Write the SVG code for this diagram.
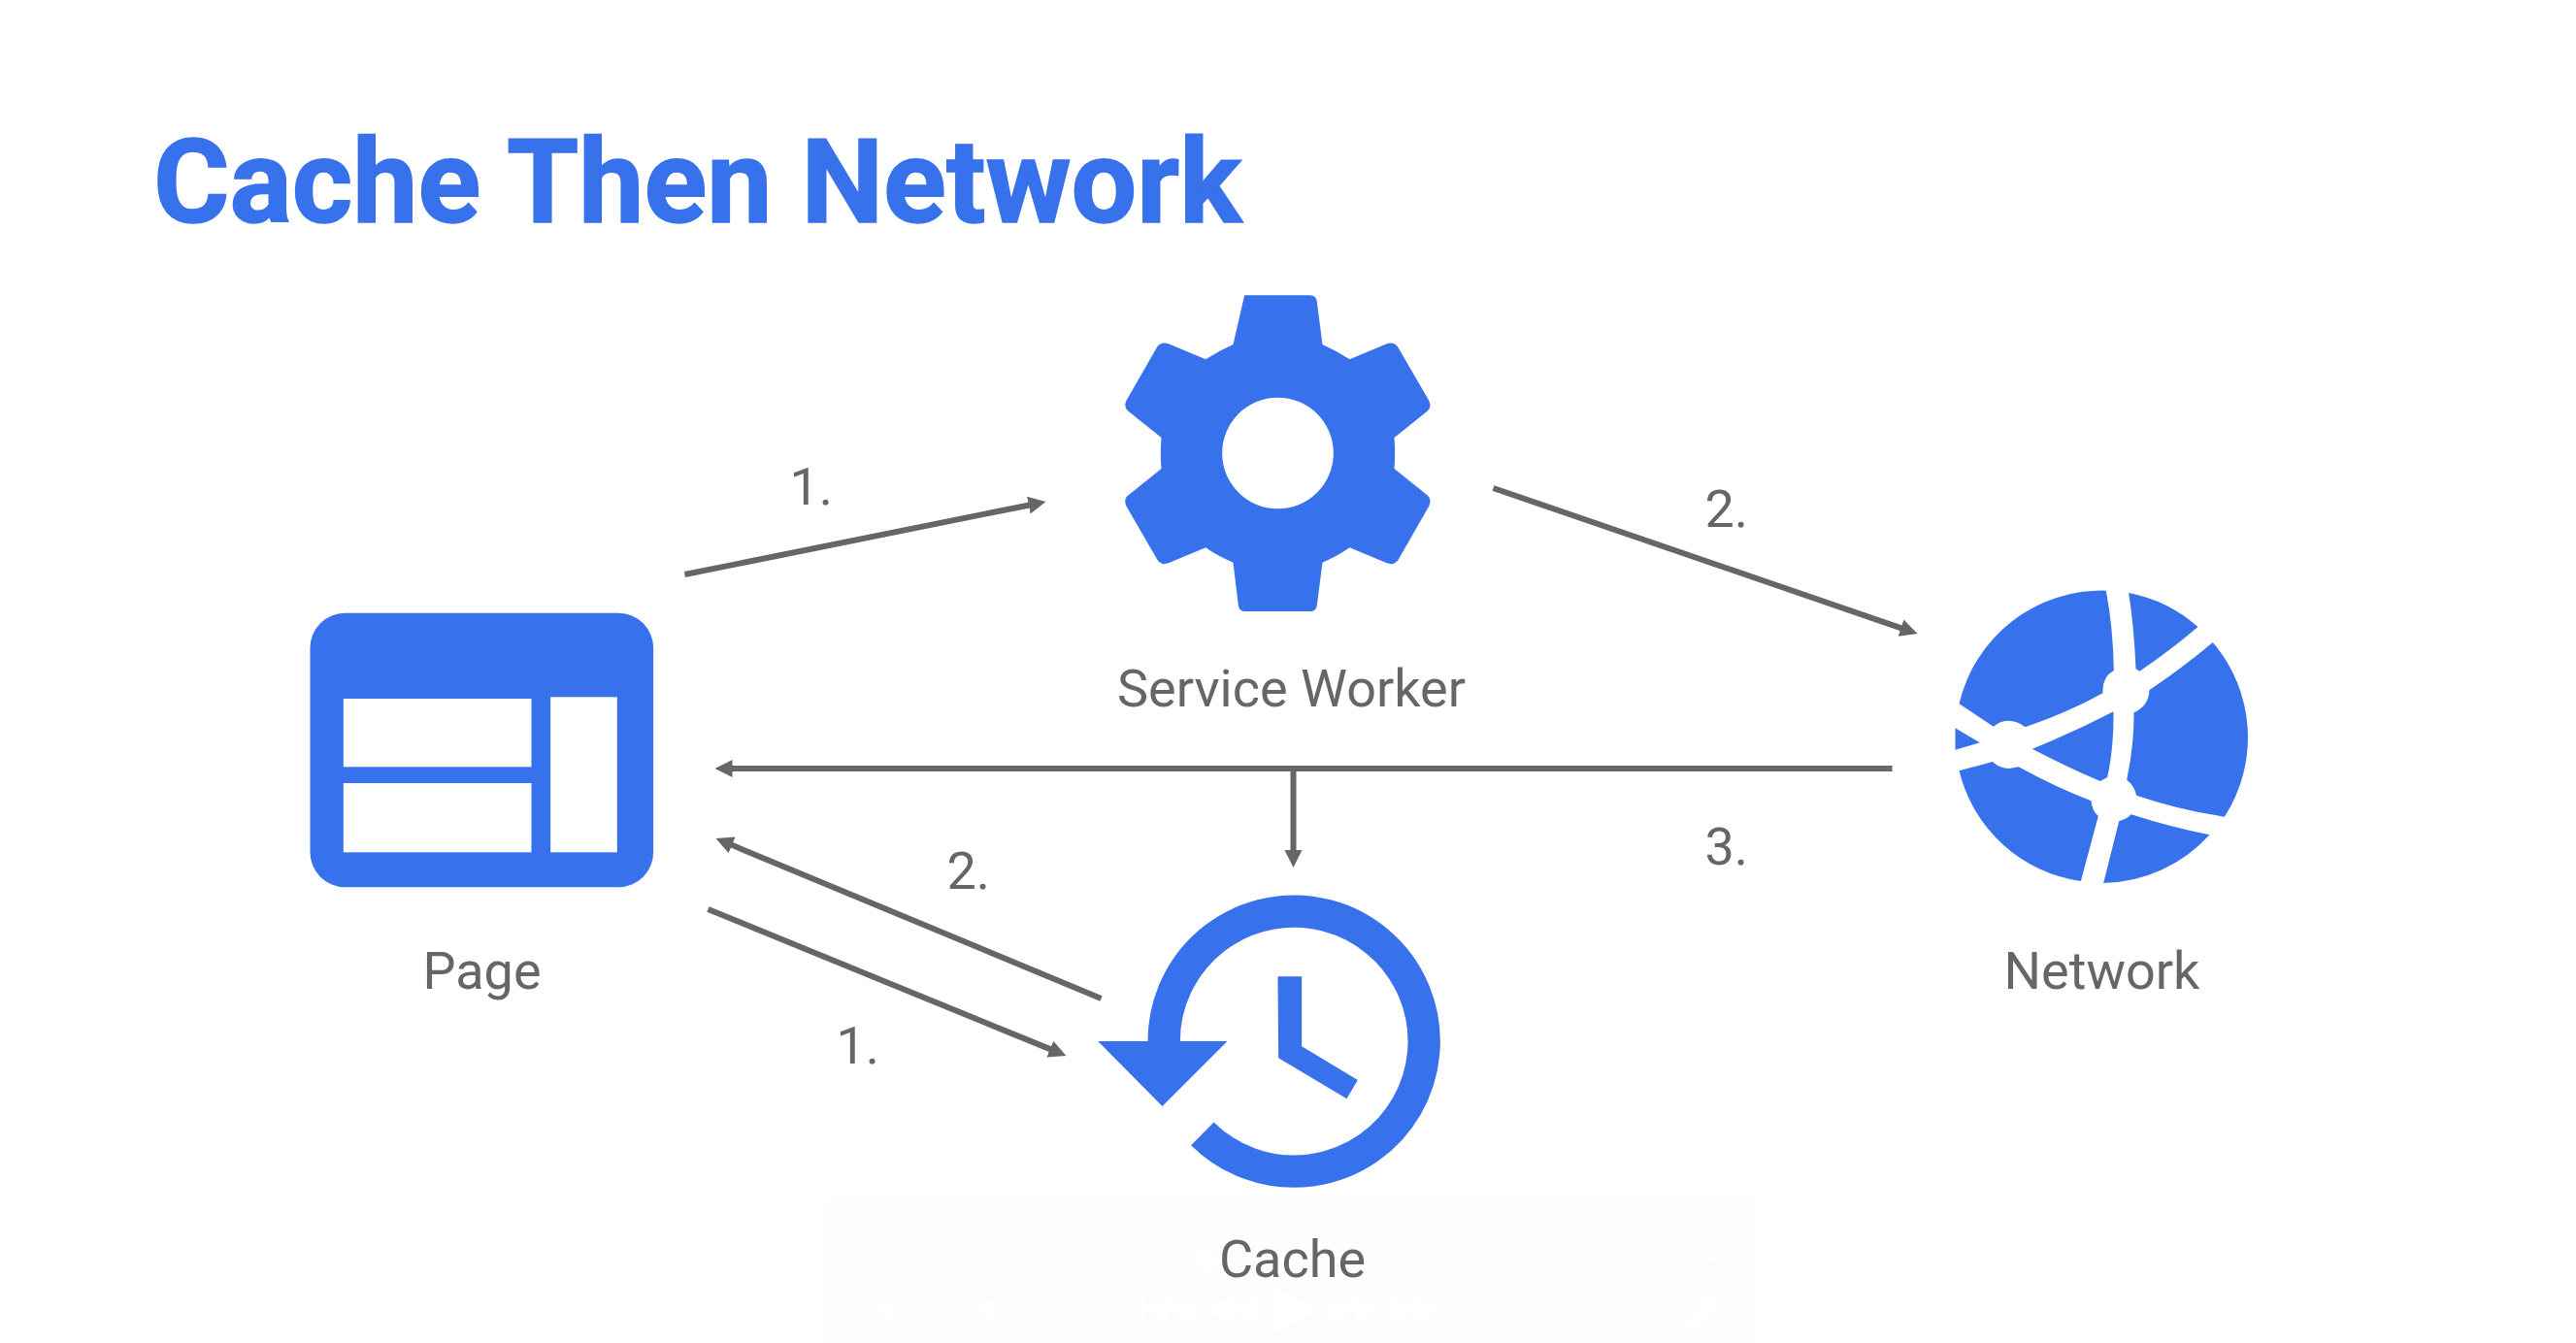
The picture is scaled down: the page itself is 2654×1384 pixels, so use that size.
<svg xmlns="http://www.w3.org/2000/svg" width="2654" height="1384" viewBox="0 0 2654 1384">
<style>
.icon{fill:#3771ec}
.hole{fill:#fff}
.label{font-family:Roboto,"Liberation Sans",sans-serif;font-size:54px;fill:#666;text-anchor:middle}
.num{font-family:Roboto,"Liberation Sans",sans-serif;font-size:54px;fill:#666}
.title{font-family:Roboto,"Liberation Sans",sans-serif;font-size:120px;font-weight:700;fill:#3771ec;stroke:#3771ec;stroke-width:1.5}
.wire{fill:none;stroke:#666;stroke-width:6}
.ghost{font-family:Roboto,"Liberation Sans",sans-serif;font-size:22px;fill:#fff}
.ghost-shape{fill:#fff}
</style>
<defs>
<marker id="arrow" markerUnits="userSpaceOnUse" markerWidth="20" markerHeight="20" refX="2" refY="9" orient="auto"><path d="M0 0L18 9L0 18Z" fill="#666"/></marker>
</defs>
<rect width="2654" height="1384" fill="#fff"/>
<g id="player">
<rect x="851" y="1232" width="958" height="160" rx="14" fill="#fdfdfd"/>
<text class="ghost" x="890" y="1258">03:30</text>
<text class="ghost" x="1060" y="1258">18 - Caching strategies - Progressive Web App Trai...</text>
<text class="ghost" x="1706" y="1258">-05:16</text>
<g class="ghost-shape">
<rect x="891" y="1296" width="876" height="4"/>
<circle cx="1242" cy="1298" r="12"/>
<path d="M902 1344H910L922 1336V1364L910 1356H902Z"/>
<rect x="951" y="1347" width="153" height="4"/>
<circle cx="1018" cy="1349" r="9"/>
<path d="M1175 1335H1181V1365H1175ZM1181 1350L1205 1335V1365ZM1205 1350L1230 1335V1365Z"/>
<path d="M1242 1350L1270 1335V1365ZM1270 1350L1297 1335V1365Z"/>
<path d="M1309 1325L1358 1350L1309 1375Z"/>
<path d="M1370 1335L1395 1350L1370 1365ZM1395 1335L1419 1350L1395 1365Z"/>
<path d="M1432 1335L1456 1350L1432 1365ZM1456 1335L1481 1350L1456 1365ZM1481 1335H1487V1365H1481Z"/>
<path d="M1762 1332L1768 1345L1745 1370L1732 1368Z"/>
</g>
</g>
<text class="title" x="158" y="229">Cache Then Network</text>
<g transform="translate(.5 1)">
<g id="connectors">
<path class="wire" marker-end="url(#arrow)" d="M705 591L1061.3 519.2"/>
<path class="wire" marker-end="url(#arrow)" d="M1538 502L1959.9 646.8"/>
<path class="wire" marker-end="url(#arrow)" d="M1949 791H752"/>
<path class="wire" marker-end="url(#arrow)" d="M1332 791V877"/>
<path class="wire" marker-end="url(#arrow)" d="M1134 1028L751.8 869.1"/>
<path class="wire" marker-end="url(#arrow)" d="M729 936L1083.2 1080.9"/>
</g>
<g id="edge-labels">
<text class="num" x="813" y="519">1.</text>
<text class="num" x="1756" y="542">2.</text>
<text class="num" x="1756" y="890">3.</text>
<text class="num" x="975" y="915">2.</text>
<text class="num" x="861" y="1095">1.</text>
</g>
<g id="page">
<g transform="translate(300 610) scale(.33333)">
<rect class="icon" x="57" y="62" width="1061" height="848" rx="108"/>
<rect class="hole" x="160" y="327" width="581" height="211"/>
<rect class="hole" x="160" y="588" width="581" height="214"/>
<rect class="hole" x="800" y="322" width="206" height="480"/>
</g>
<text class="label" x="496" y="1018">Page</text>
</g>
<g id="service-worker">
<path class="icon" fill-rule="evenodd" transform="translate(1100 280) scale(.33333)" d="M545 70H750Q767 72 769 90L786 222Q830 242 870 268L985 220Q1005 212 1018 228L1115 395Q1125 415 1110 428L1008 510Q1012 558 1008 606L1110 688Q1125 700 1115 722L1020 888Q1008 906 985 898L870 850Q830 878 786 896L769 1028Q767 1046 750 1047H545Q528 1046 526 1028L510 896Q465 878 425 850L310 898Q288 906 276 888L180 722Q170 700 186 688L288 606Q284 558 288 510L186 428Q170 415 180 395L276 228Q288 212 310 220L425 268Q465 242 510 222ZM648 386A172 172 0 1 0 648 730A172 172 0 1 0 648 386Z"/>
<text class="label" x="1330" y="727">Service Worker</text>
</g>
<g id="network">
<g class="icon" transform="translate(1980 580) scale(.33333)">
<path d="M568 83A452 452 0 0 0 114 433L220 503Q240 485 265 485Q295 485 318 505Q450 460 558 400Q555 350 592 330Q590 200 568 83Z"/>
<path d="M638 90A452 452 0 0 1 852 195Q770 265 672 332L660 325Q655 200 638 90Z"/>
<path d="M898 243A452 452 0 0 1 934 782Q790 760 662 716Q655 685 632 668Q655 560 654 460Q700 440 702 390Q800 325 898 243Z"/>
<path d="M102 508L178 553L102 575Z"/>
<path d="M340 572Q470 520 591 457Q592 570 572 660L550 672Q440 625 340 572Z"/>
<path d="M114 640L217 612Q240 633 268 633L298 628Q410 690 522 733Q525 765 544 780L490 981A452 452 0 0 1 114 640Z"/>
<path d="M608 796Q630 790 646 775Q770 815 888 838A452 452 0 0 1 560 987Z"/>
</g>
<text class="label" x="2165" y="1018">Network</text>
</g>
<g id="cache">
<g transform="translate(1100 900) scale(.33333)">
<path d="M296 516A402 402 0 1 1 415 802" fill="none" stroke="#3771ec" stroke-width="100"/>
<path class="icon" d="M92 516H492L291 717Z"/>
<path class="icon" d="M648 316H722V532L895 636L861 694L650 568Z"/>
</g>
<text class="label" x="1331" y="1315">Cache</text>
</g>
</g>
</svg>
